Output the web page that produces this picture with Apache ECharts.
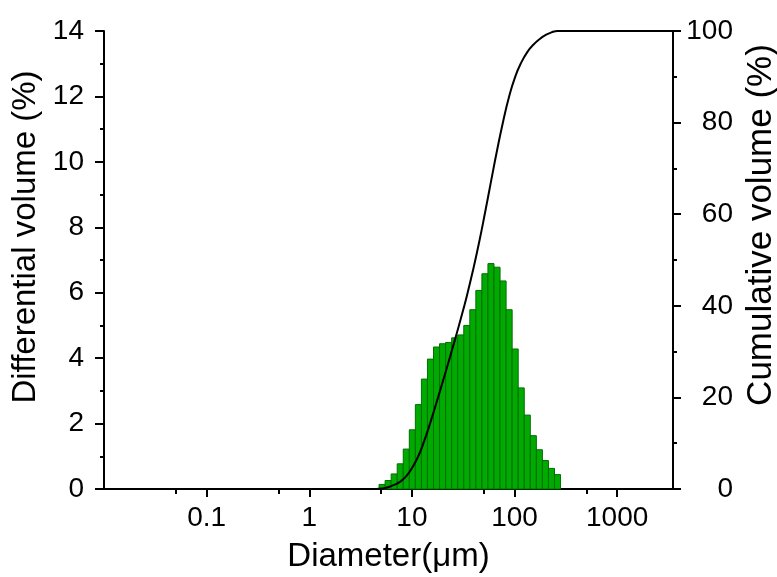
<!DOCTYPE html>
<html>
<head>
<meta charset="utf-8">
<script src="https://cdn.jsdelivr.net/npm/echarts@6/dist/echarts.min.js"></script>
<style>
  html, body { margin: 0; padding: 0; background: #fff; }
  #chart { width: 777px; height: 577px; }
</style>
</head>
<body>
<div id="chart"></div>
<script>
// channel diameters (um) that carry volume
const channelSize = [5.122, 5.867, 6.72, 7.697, 8.816, 10.097, 11.565, 13.246, 15.172, 17.377,
  19.904, 22.797, 26.111, 29.907, 34.255, 39.234, 44.938, 51.471, 58.953, 67.523,
  77.34, 88.583, 101.46, 116.21, 133.103, 152.453, 174.616, 200, 229.075, 262.376];
// differential volume (%)
const diffVolume = [0.14, 0.26, 0.46, 0.77, 1.22, 1.81, 2.58, 3.36, 3.97, 4.34,
  4.44, 4.48, 4.62, 4.71, 5.0, 5.48, 6.07, 6.58, 6.89, 6.78,
  6.36, 5.48, 4.28, 3.09, 2.26, 1.63, 1.2, 0.87, 0.63, 0.44];
// cumulative curve
const cumSize = [0.01, 4.472, 5.122, 5.867, 6.72, 7.697, 8.816, 10.097, 11.565, 13.246, 15.172, 17.377,
  19.904, 22.797, 26.111, 29.907, 34.255, 39.234, 44.938, 51.471, 58.953, 67.523,
  77.34, 88.583, 101.46, 116.21, 133.103, 152.453, 174.616, 200, 229.075, 262.376, 3500];
const cumVolume = [0, 0, 0.1, 0.4, 0.9, 1.6, 2.8, 4.7, 7.2, 10.6, 14.6, 18.9,
  23.3, 27.8, 32.4, 37.1, 42.1, 47.6, 53.6, 60.2, 67.1, 73.9,
  80.2, 85.7, 90.0, 93.1, 95.4, 97.0, 98.2, 99.1, 99.7, 100, 100];
// x axis ticks
const xTickValues = [0.1, 1, 10, 100, 1000];
const xTickLabels = ["0.1", "1", "10", "100", "1000"];
const xMinorTicks = [0.05, 0.5, 5, 50, 500];
const xMin = 0.01;
const xMax = 3500;

const font = "'Liberation Sans', Arial, sans-serif";
const binHalf = Math.sqrt(channelSize[1] / channelSize[0]);
const logMin = Math.log10(xMin);
const logMax = Math.log10(xMax);

let myChart = echarts.init(document.getElementById("chart"));

let option = {
  animation: false,
  grid: { left: 104, right: 104, top: 31, bottom: 88, containLabel: false, outerBoundsMode: "none" },
  xAxis: [
    {
      type: "log",
      logBase: 10,
      min: xMin,
      max: xMax,
      position: "bottom",
      axisLine: { show: true, onZero: false, lineStyle: { color: "#000", width: 2 } },
      axisTick: { show: false },
      axisLabel: { show: false },
      splitLine: { show: false },
      name: "Diameter(\u03bcm)",
      nameLocation: "middle",
      nameGap: 51,
      nameTextStyle: { color: "#000", fontSize: 33, fontFamily: font }
    },
    {
      // major ticks and labels, in log10 units
      type: "value",
      min: logMin,
      max: logMax,
      position: "bottom",
      axisLine: { show: false },
      axisTick: {
        show: true,
        length: 8,
        customValues: xTickValues.map(Math.log10),
        lineStyle: { color: "#000", width: 2 }
      },
      axisLabel: {
        show: true,
        customValues: xTickValues.map(Math.log10),
        margin: 15,
        color: "#000",
        fontSize: 28,
        fontFamily: font,
        formatter: function (v) {
          for (let i = 0; i < xTickValues.length; i++) {
            if (Math.abs(Math.log10(xTickValues[i]) - v) < 1e-6) return xTickLabels[i];
          }
          return "";
        }
      },
      splitLine: { show: false }
    },
    {
      // minor ticks
      type: "value",
      min: logMin,
      max: logMax,
      position: "bottom",
      axisLine: { show: false },
      axisTick: {
        show: true,
        length: 5,
        customValues: xMinorTicks.map(Math.log10),
        lineStyle: { color: "#000", width: 2 }
      },
      axisLabel: { show: false },
      splitLine: { show: false }
    }
  ],
  yAxis: [
    {
      type: "value",
      min: 0,
      max: 14,
      interval: 2,
      position: "left",
      axisLine: { show: true, onZero: false, lineStyle: { color: "#000", width: 2 } },
      axisTick: { show: true, length: 9, lineStyle: { color: "#000", width: 2 } },
      minorTick: { show: true, splitNumber: 2, length: 4, lineStyle: { color: "#000", width: 2 } },
      axisLabel: { margin: 20, color: "#000", fontSize: 28, fontFamily: font },
      splitLine: { show: false },
      name: "Differential volume (%)",
      nameLocation: "middle",
      nameGap: 56,
      nameTextStyle: {
        color: "#000",
        fontSize: 33,
        fontFamily: font,
        padding: [0, 0, 0, 46]
      }
    },
    {
      type: "value",
      min: 0,
      max: 100,
      interval: 20,
      position: "right",
      axisLine: { show: true, onZero: false, lineStyle: { color: "#000", width: 2 } },
      axisTick: { show: true, length: 8, lineStyle: { color: "#000", width: 2 } },
      minorTick: { show: true, splitNumber: 2, length: 4, lineStyle: { color: "#000", width: 2 } },
      axisLabel: { margin: 60, align: "right", color: "#000", fontSize: 28, fontFamily: font },
      splitLine: { show: false },
      name: "Cumulative volume (%)",
      nameLocation: "middle",
      nameGap: 67,
      nameTextStyle: {
        color: "#000",
        fontSize: 35,
        fontFamily: font,
        padding: [0, 0, 0, 70]
      }
    }
  ],
  series: [
    {
      name: "Differential volume",
      type: "custom",
      xAxisIndex: 0,
      yAxisIndex: 0,
      encode: { x: 0, y: 1 },
      data: channelSize.map((d, i) => [d, diffVolume[i]]),
      renderItem: function (params, api) {
        let d = api.value(0);
        let v = api.value(1);
        let p0 = api.coord([d / binHalf, v]);
        let p1 = api.coord([d * binHalf, 0]);
        return {
          type: "rect",
          shape: { x: p0[0], y: p0[1], width: p1[0] - p0[0], height: p1[1] - p0[1] },
          style: { fill: "#00aa00", stroke: "#006f00", lineWidth: 1 }
        };
      },
      z: 2
    },
    {
      name: "Cumulative volume",
      type: "line",
      xAxisIndex: 0,
      yAxisIndex: 1,
      data: cumSize.map((d, i) => [d, cumVolume[i]]),
      showSymbol: false,
      smooth: 0.5,
      lineStyle: { color: "#000", width: 2 },
      z: 3
    }
  ]
};

myChart.setOption(option, true);
window.addEventListener("resize", () => {
  myChart.resize();
});
</script>
</body>
</html>
